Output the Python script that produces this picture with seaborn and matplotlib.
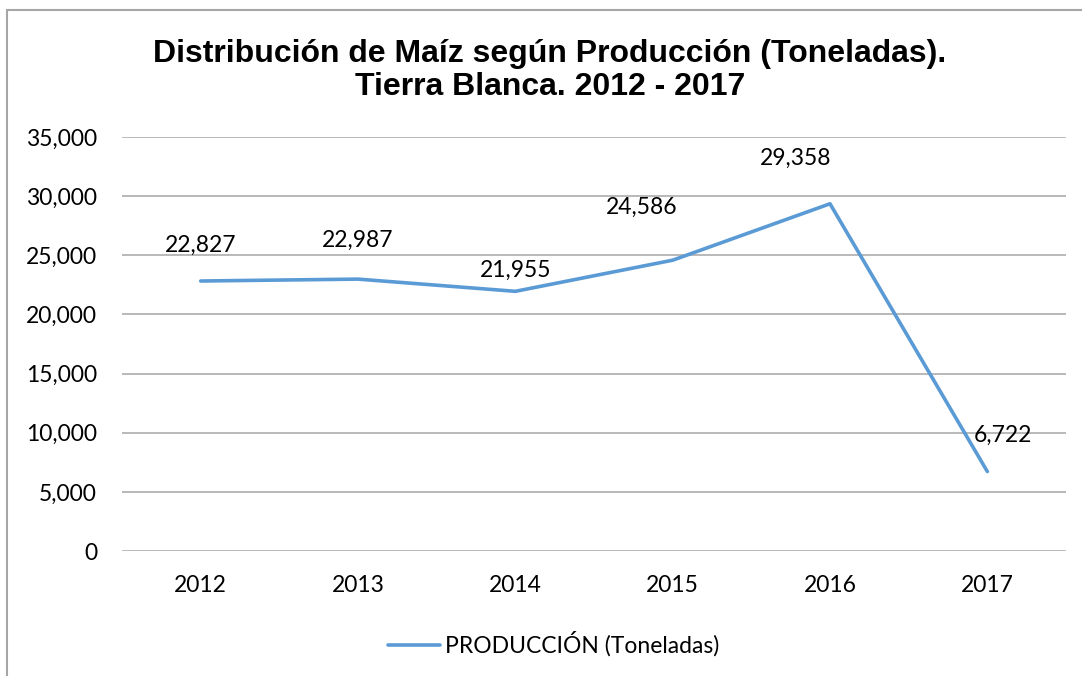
import matplotlib
matplotlib.use("Agg")
import matplotlib.pyplot as plt
import seaborn as sns
import pandas as pd
from matplotlib.ticker import FuncFormatter

# Data
years = ["2012", "2013", "2014", "2015", "2016", "2017"]
produccion = [22827, 22987, 21955, 24586, 29358, 6722]

df = pd.DataFrame({"Año": years, "PRODUCCIÓN (Toneladas)": produccion})

sns.set_theme(style="white")
plt.rcParams["font.family"] = ["Lato", "DejaVu Sans"]

fig = plt.figure(figsize=(10.82, 6.76), dpi=100)
ax = fig.add_axes([0.1128, 0.1849, 0.8724, 0.6124])

sns.lineplot(
    data=df,
    x="Año",
    y="PRODUCCIÓN (Toneladas)",
    color="#5b9bd5",
    linewidth=2.6,
    ax=ax,
    label="PRODUCCIÓN (Toneladas)",
    sort=False,
)

ax.set_xlim(-0.5, 5.5)
ax.set_ylim(0, 35000)
ax.set_yticks(range(0, 35001, 5000))
ax.yaxis.set_major_formatter(FuncFormatter(lambda v, p: f"{int(v):,}"))
ax.grid(axis="y", color="#a6a6a6", linewidth=1.1)
ax.set_axisbelow(True)
for s in ax.spines.values():
    s.set_visible(False)
ax.tick_params(axis="both", length=0, labelsize=16.5, colors="black")
ax.tick_params(axis="y", pad=18)
ax.tick_params(axis="x", pad=17)
ax.set_xlabel("")
ax.set_ylabel("")

# Data labels (offsets in points)
offsets = [(0, 26), (0, 28), (0, 15), (-22, 38), (-25, 33), (11, 26)]
for i, (v, off) in enumerate(zip(produccion, offsets)):
    ax.annotate(f"{v:,}", (i, v), xytext=off, textcoords="offset points",
                ha="center", va="center", fontsize=16.5, color="black")

fig.text(0.508, 0.896, "Distribución de Maíz según Producción (Toneladas).\nTierra Blanca. 2012 - 2017",
         ha="center", va="center", fontsize=23, fontweight="bold", color="black",
         family="Liberation Sans", linespacing=1.12)

leg = ax.legend(loc="center", bbox_to_anchor=(0.457, -0.225), frameon=False,
                fontsize=16.5, handlelength=2.3, handletextpad=0.2)
for t in leg.get_texts():
    t.set_color("black")

# Chart-area frame (left and top edges visible)
fig.add_artist(plt.Line2D([0.0065, 0.0065], [0, 0.985], color="#a6a6a6", linewidth=1.5))
fig.add_artist(plt.Line2D([0.0065, 1.0], [0.985, 0.985], color="#a6a6a6", linewidth=1.5))

fig.savefig("out.png", dpi=100)
